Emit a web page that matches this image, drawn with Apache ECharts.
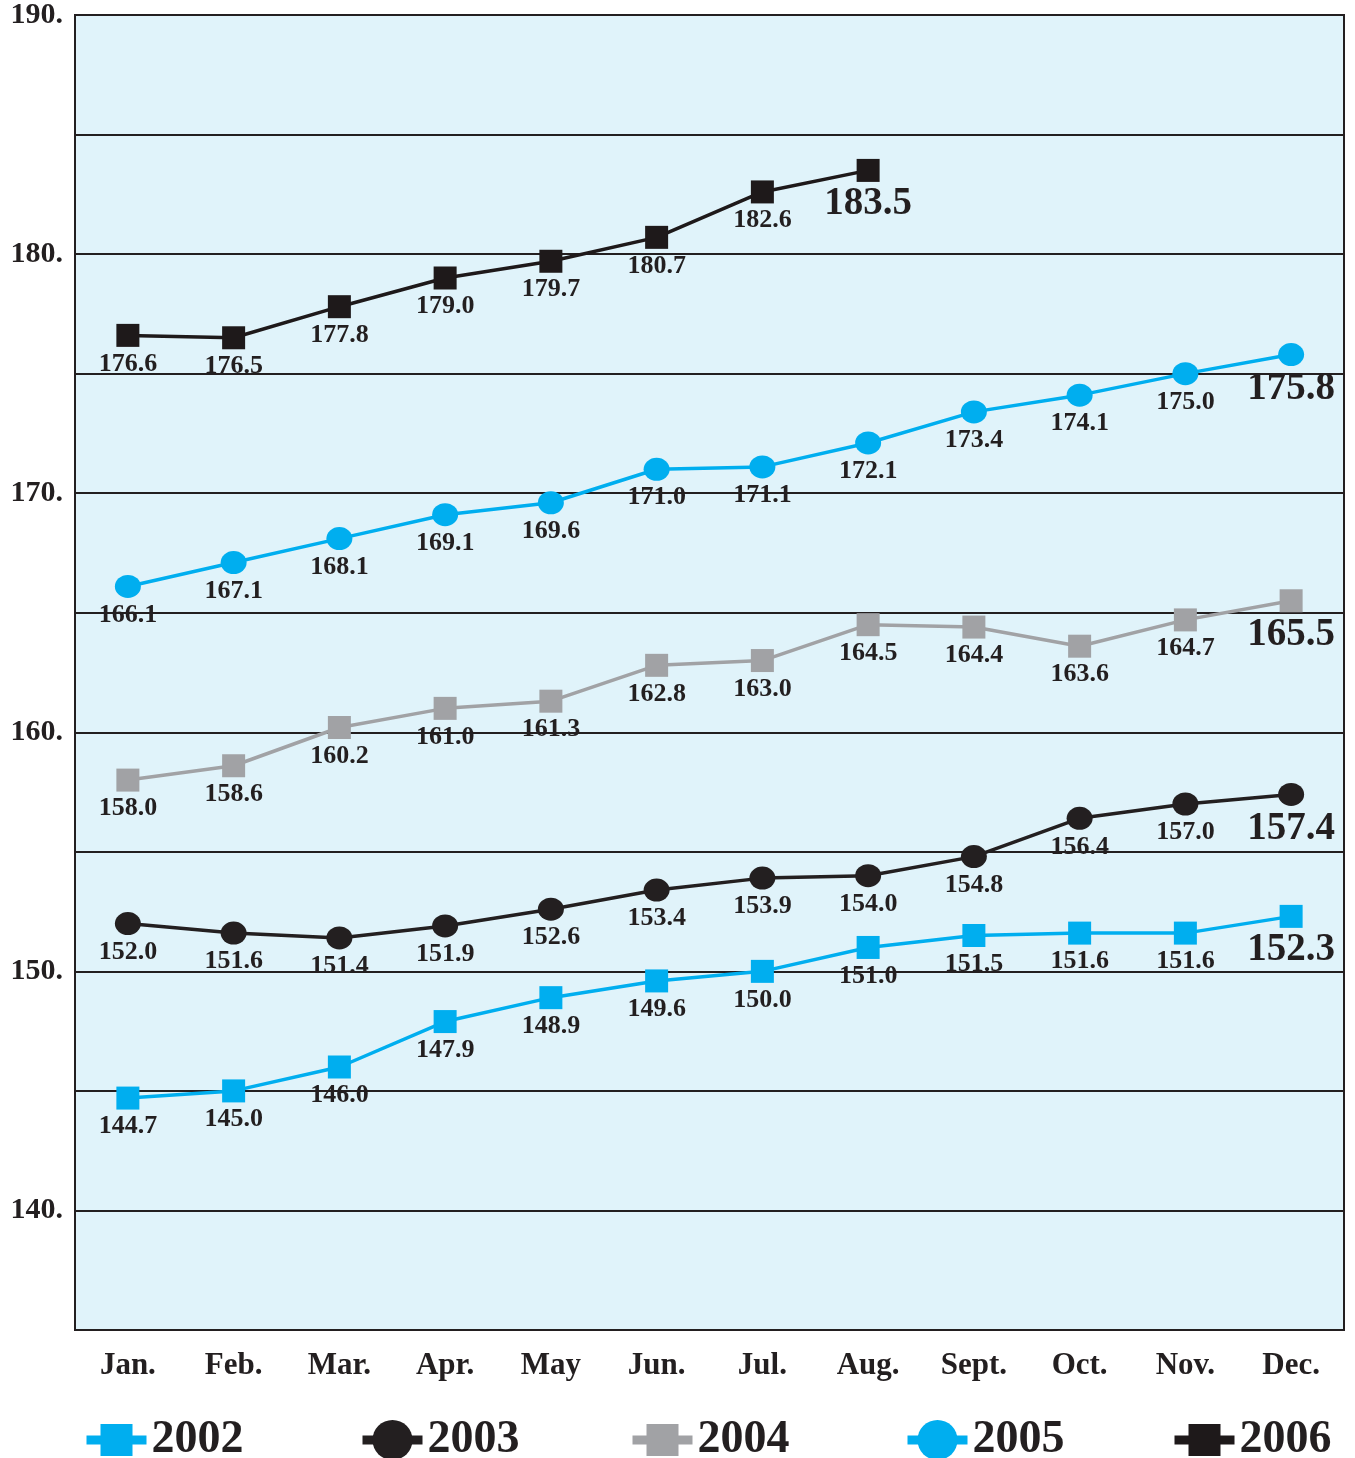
<!DOCTYPE html>
<html>
<head>
<meta charset="utf-8">
<title>Monthly index 2002–2006</title>
<script src="https://cdn.jsdelivr.net/npm/echarts@6/dist/echarts.min.js"></script>
<style>
  html, body { margin: 0; padding: 0; background: #ffffff; }
  #chart { width: 1355px; height: 1458px; }
</style>
</head>
<body>
<div id="chart"></div>
<script>
// Month categories along the x axis
const months = ['Jan.', 'Feb.', 'Mar.', 'Apr.', 'May', 'Jun.', 'Jul.', 'Aug.', 'Sept.', 'Oct.', 'Nov.', 'Dec.'];

// Monthly values per year
const y2002 = [144.7, 145.0, 146.0, 147.9, 148.9, 149.6, 150.0, 151.0, 151.5, 151.6, 151.6, 152.3];
const y2003 = [152.0, 151.6, 151.4, 151.9, 152.6, 153.4, 153.9, 154.0, 154.8, 156.4, 157.0, 157.4];
const y2004 = [158.0, 158.6, 160.2, 161.0, 161.3, 162.8, 163.0, 164.5, 164.4, 163.6, 164.7, 165.5];
const y2005 = [166.1, 167.1, 168.1, 169.1, 169.6, 171.0, 171.1, 172.1, 173.4, 174.1, 175.0, 175.8];
const y2006 = [176.6, 176.5, 177.8, 179.0, 179.7, 180.7, 182.6, 183.5];

const years = ['2002', '2003', '2004', '2005', '2006'];

const INK = '#231F20';
const BLUE = '#00AEEF';
const GRAY = '#A1A2A5';
const SERIF = '"Liberation Serif", "Times New Roman", serif';

// The latest value of each year gets a larger label
function withLatestHighlighted(values) {
  const last = values.length - 1;
  return values.map((v, i) => i === last
    ? { value: v, label: { fontSize: 39, distance: 3 } }
    : v);
}

function lineSeries(name, values, color, symbol, size) {
  return {
    name: name,
    type: 'line',
    data: withLatestHighlighted(values),
    symbol: symbol,
    symbolSize: size,
    showAllSymbol: true,
    lineStyle: { color: color, width: 3.5 },
    itemStyle: { color: color },
    label: {
      show: true,
      position: 'bottom',
      distance: 4,
      color: INK,
      fontFamily: SERIF,
      fontWeight: 'bold',
      fontSize: 26,
      formatter: p => p.value.toFixed(1)
    },
    emphasis: { disabled: true },
    animation: false
  };
}

// One legend block per year, spread along the bottom
const legendLefts = [82, 358, 628, 903, 1170];
const legendItemHeights = [40, 50, 40, 50, 40];
const legends = years.map((y, i) => ({
  data: [y],
  left: legendLefts[i],
  top: 1417,
  padding: 0,
  orient: 'horizontal',
  itemWidth: 60,
  itemHeight: legendItemHeights[i],
  selectedMode: false,
  lineStyle: { width: 9 },
  textStyle: {
    color: INK,
    fontFamily: SERIF,
    fontWeight: 'bold',
    fontSize: 46
  }
}));

const chart = echarts.init(document.getElementById('chart'), null, { renderer: 'canvas' });

chart.setOption({
  backgroundColor: '#ffffff',
  animation: false,
  grid: {
    left: 75,
    right: 11,
    top: 15,
    bottom: 128,
    show: true,
    backgroundColor: '#E0F3FA',
    borderColor: INK,
    borderWidth: 2
  },
  legend: legends,
  xAxis: {
    type: 'category',
    data: months,
    boundaryGap: true,
    axisLine: { show: true, lineStyle: { color: INK, width: 2 } },
    axisTick: { show: false },
    splitLine: { show: false },
    axisLabel: {
      color: INK,
      fontFamily: SERIF,
      fontWeight: 'bold',
      fontSize: 31,
      margin: 20
    }
  },
  yAxis: {
    type: 'value',
    min: 135,
    max: 190,
    interval: 5,
    axisLine: { show: true, lineStyle: { color: INK, width: 2 } },
    axisTick: { show: false },
    splitLine: { show: true, lineStyle: { color: INK, width: 2 } },
    axisLabel: {
      color: INK,
      fontFamily: SERIF,
      fontWeight: 'bold',
      fontSize: 30,
      margin: 12,
      formatter: v => (v % 10 === 0 ? v + '.' : '')
    }
  },
  series: [
    lineSeries('2002', y2002, BLUE, 'rect', 23),
    lineSeries('2003', y2003, INK, 'circle', [26, 23]),
    lineSeries('2004', y2004, GRAY, 'rect', 23),
    lineSeries('2005', y2005, BLUE, 'circle', [26, 23]),
    lineSeries('2006', y2006, '#1E191A', 'rect', 23)
  ]
});
</script>
</body>
</html>
